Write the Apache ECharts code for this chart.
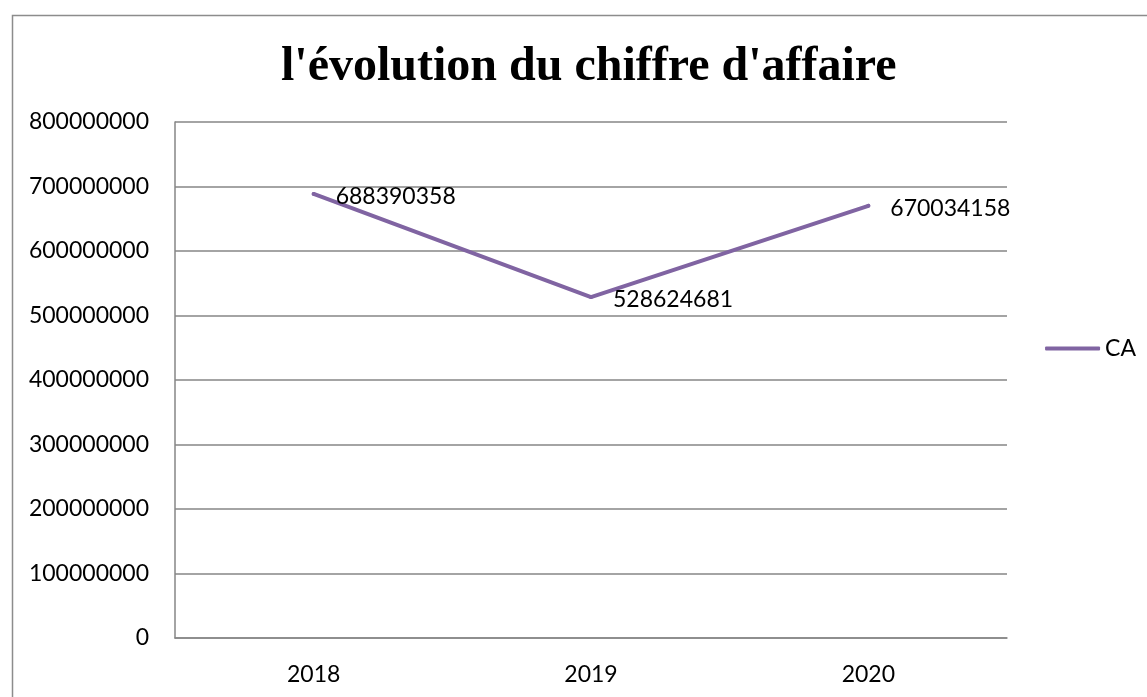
<!DOCTYPE html>
<html><head><meta charset="utf-8">
<script src="https://cdn.jsdelivr.net/npm/echarts@6/dist/echarts.min.js"></script>
<style>html,body{margin:0;padding:0;background:#fff}#c{width:1147px;height:697px}</style>
</head><body><div id="c"></div>
<script>
const categories = ['2018', '2019', '2020'];
const caValues = [688390358, 528624681, 670034158];
const seriesName = 'CA';
const titleText = "l'évolution du chiffre d'affaire";

const chart = echarts.init(document.getElementById('c'));
const lbl = () => ({fontFamily: 'Lato', fontSize: 23, color: '#000'});
chart.setOption({
  animation: false,
  backgroundColor: '#fff',
  graphic: [{type: 'rect', left: 10, top: 13, shape: {width: 1300, height: 900}, style: {fill: 'none', stroke: '#8c8c8c', lineWidth: 1.5}, z: -1}],
  title: {text: titleText, left: 276, top: 39, textStyle: {fontFamily: 'Liberation Serif', fontWeight: 'bold', fontSize: 48, color: '#000'}},
  legend: {data: [seriesName], right: 6, top: 'middle', orient: 'vertical', itemWidth: 55, itemHeight: 4, itemGap: 5, icon: 'roundRect', textStyle: lbl()},
  grid: {left: 175, right: 140, top: 122, bottom: 59, containLabel: false},
  xAxis: {type: 'category', data: categories, boundaryGap: true,
    axisLine: {lineStyle: {color: '#868686', width: 1.5}}, axisTick: {show: false},
    axisLabel: Object.assign(lbl(), {margin: 25})},
  yAxis: {type: 'value', min: 0, max: 800000000, interval: 100000000,
    axisLine: {show: true, lineStyle: {color: '#868686', width: 1.5}}, axisTick: {show: false},
    splitLine: {lineStyle: {color: '#868686', width: 1.5}},
    axisLabel: Object.assign(lbl(), {margin: 26, formatter: v => String(v)})},
  series: [{name: seriesName, type: 'line', data: caValues, symbol: 'circle', symbolSize: 4, showSymbol: true,
    lineStyle: {color: '#8064A2', width: 4, cap: 'round', join: 'round'}, itemStyle: {color: '#8064A2'},
    label: Object.assign(lbl(), {show: true, position: 'right', distance: 20, offset: [0, 3], formatter: p => String(p.value)})}]
});
</script></body></html>
